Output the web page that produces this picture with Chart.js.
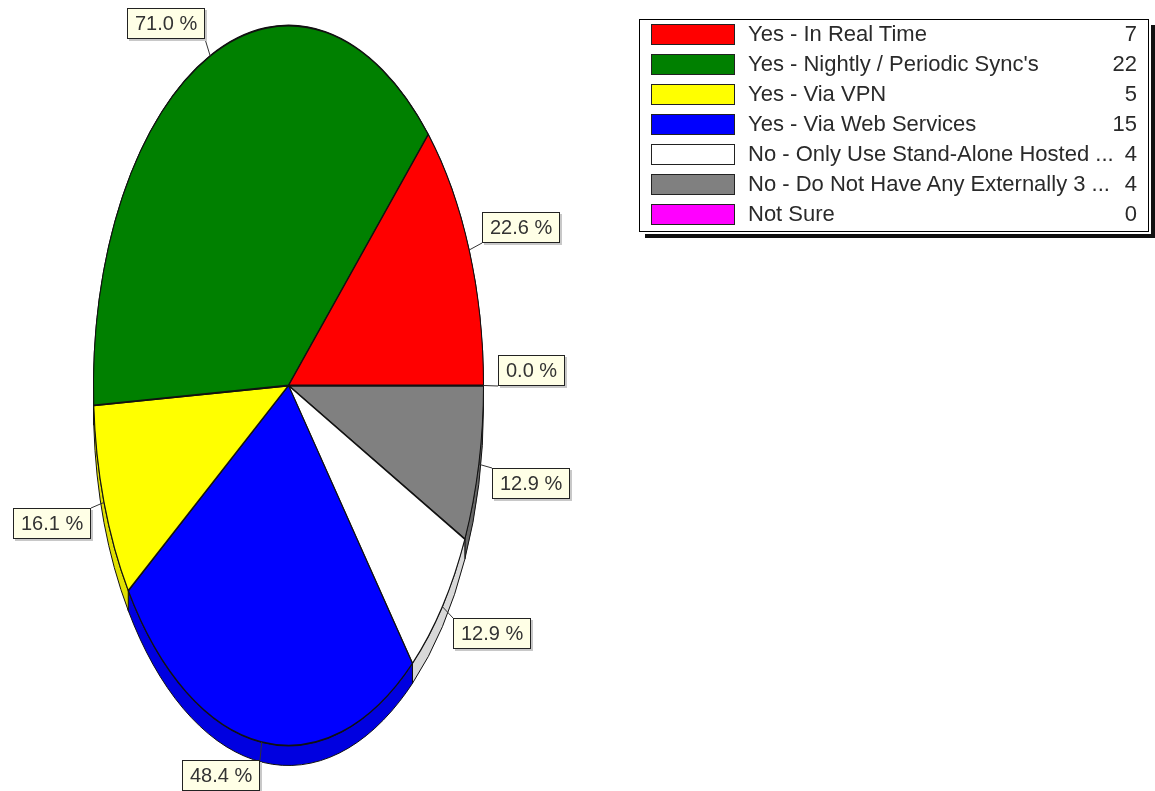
<!DOCTYPE html>
<html>
<head>
<meta charset="utf-8">
<script src="https://cdn.jsdelivr.net/npm/chart.js@4.4.1/dist/chart.umd.min.js"></script>
<style>
  body { margin: 0; background: #fff; font-family: "Liberation Sans", Arial, sans-serif; }
  #contenedor { position: relative; width: 1155px; height: 791px; }
  #graficoPastel { position: absolute; left: 0; top: 0; }
  .Leyenda {
    position: absolute; left: 639px; top: 19px; width: 508px; height: 211px;
    border: 1px solid #000; background: #fff;
    box-shadow: 2px 2px 0 #fff, 6px 6px 0 #111;
  }
  .Leyenda-fila { position: absolute; left: 11px; right: 11px; height: 22px; }
  .Leyenda-muestra { position: absolute; left: 0; top: 0; width: 82px; height: 19px; border: 1px solid #222; }
  .Leyenda-texto { position: absolute; left: 97px; top: -1px; font-size: 22px; line-height: 22px; color: #2a2a2a; white-space: nowrap; }
  .Leyenda-valor { position: absolute; right: 0; top: -1px; font-size: 22px; line-height: 22px; color: #2a2a2a; }
</style>
</head>
<body>
<div id="contenedor">
  <canvas id="graficoPastel" width="1155" height="791"></canvas>
  <div class="Leyenda" id="leyenda"></div>
</div>
<script>
const categorias = [
  "Yes - In Real Time",
  "Yes - Nightly / Periodic Sync's",
  "Yes - Via VPN",
  "Yes - Via Web Services",
  "No - Only Use Stand-Alone Hosted ...",
  "No - Do Not Have Any Externally 3 ...",
  "Not Sure",
];
const respuestas = [7, 22, 5, 15, 4, 4, 0];
const encuestados = 31; // los porcentajes van sobre quienes respondieron

const colores = ["#ff0000", "#008000", "#ffff00", "#0000ff", "#ffffff", "#808080", "#ff00ff"];
const coloresLado = ["#d00000", "#006000", "#e0e000", "#0000e0", "#d8d8d8", "#686868", "#c000c0"];

// el pastel se ve como elipse alta con un canto de 20px
const ESCALA_Y = 360 / 195;
const PROFUNDIDAD = 20;

// leyenda a la derecha
const leyenda = document.getElementById("leyenda");
categorias.forEach((cat, i) => {
  const fila = document.createElement("div");
  fila.className = "Leyenda-fila";
  fila.style.top = 4 + i * 30 + "px";
  fila.innerHTML =
    '<div class="Leyenda-muestra" style="background:' + colores[i] + '"></div>' +
    '<div class="Leyenda-texto"></div><div class="Leyenda-valor"></div>';
  fila.querySelector(".Leyenda-texto").textContent = cat;
  fila.querySelector(".Leyenda-valor").textContent = respuestas[i];
  leyenda.appendChild(fila);
});

// Chart.js dibuja en sentido horario; invertimos para que el rojo suba desde las 3
const orden = categorias.map((_, i) => i).reverse();

function trazoFino(ctx, color) {
  ctx.save();
  ctx.setTransform(1, 0, 0, 1, 0, 0);
  ctx.strokeStyle = color;
  ctx.lineWidth = 1;
  ctx.stroke();
  ctx.restore();
}

const pastel3D = {
  id: "pastel3D",
  beforeDatasetsDraw(chart) {
    const ctx = chart.ctx;
    const arcos = chart.getDatasetMeta(0).data;
    const { x, y } = arcos[0].getProps(["x", "y"], true);
    ctx.save();
    ctx.translate(x, y);
    ctx.scale(1, ESCALA_Y);
    ctx.translate(-x, -y);

    const d = PROFUNDIDAD / ESCALA_Y;
    arcos.forEach((arco, i) => {
      const { startAngle, endAngle, outerRadius } = arco.getProps(["startAngle", "endAngle", "outerRadius"], true);
      if (endAngle - startAngle <= 0) return;
      ctx.beginPath();
      ctx.arc(x, y, outerRadius, startAngle, endAngle);
      ctx.arc(x, y + d, outerRadius, endAngle, startAngle, true);
      ctx.closePath();
      ctx.fillStyle = coloresLado[orden[i]];
      ctx.fill();
      trazoFino(ctx, "#111");
    });
  },
  afterDatasetsDraw(chart) {
    chart.ctx.restore();
  },
  afterDraw(chart) {
    const ctx = chart.ctx;
    const arcos = chart.getDatasetMeta(0).data;
    const datos = chart.data.datasets[0].data;
    ctx.save();
    ctx.font = "20px 'Liberation Sans', Arial, sans-serif";
    ctx.textBaseline = "middle";
    arcos.forEach((arco, i) => {
      const { x, y, startAngle, endAngle, outerRadius } =
        arco.getProps(["x", "y", "startAngle", "endAngle", "outerRadius"], true);
      const medio = (startAngle + endAngle) / 2;
      const cos = Math.cos(medio);
      const sin = Math.sin(medio);
      const ex = x + outerRadius * cos;
      const ey = y + outerRadius * ESCALA_Y * sin;
      const ax = Math.round(ex + 14 * cos);
      const ay = Math.round(ey + 18 * sin);

      const texto = (datos[i] / encuestados * 100).toFixed(1) + " %";
      const w = Math.round(ctx.measureText(texto).width) + 16;
      const h = 31;
      const izq = cos >= 0 ? ax : ax - w;
      const arriba = sin > 0.01 ? ay : ay - h;

      ctx.beginPath();
      ctx.moveTo(ex, ey);
      ctx.lineTo(ax, ay);
      ctx.strokeStyle = "#333";
      ctx.lineWidth = 1;
      ctx.stroke();

      ctx.fillStyle = "#c8c8c8";
      ctx.fillRect(izq + 2, arriba + 2, w, h);
      ctx.fillStyle = "#ffffe6";
      ctx.fillRect(izq, arriba, w, h);
      ctx.strokeStyle = "#222";
      ctx.strokeRect(izq + 0.5, arriba + 0.5, w - 1, h - 1);
      ctx.fillStyle = "#333";
      ctx.fillText(texto, izq + 8, arriba + h / 2 + 1);
    });
    ctx.restore();
  },
};

const ctx = document.getElementById("graficoPastel").getContext("2d");
const grafico = new Chart(ctx, {
  type: "pie",
  data: {
    labels: orden.map((i) => categorias[i]),
    datasets: [
      {
        data: orden.map((i) => respuestas[i]),
        backgroundColor: orden.map((i) => colores[i]),
        borderColor: "#111",
        borderWidth: 1,
        offset: 0,
        hoverOffset: 0,
        clip: false,
      },
    ],
  },
  options: {
    responsive: false,
    animation: false,
    events: [],
    rotation: 90,
    layout: { padding: { left: 93, right: 671, top: 190, bottom: 210 } },
    plugins: {
      legend: { display: false },
      tooltip: { enabled: false },
    },
  },
  plugins: [pastel3D],
});
</script>
</body>
</html>
